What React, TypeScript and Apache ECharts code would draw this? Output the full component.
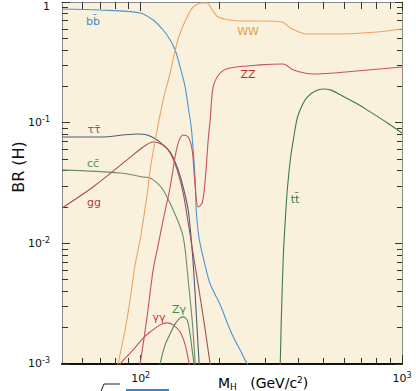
import React, { useEffect, useRef } from "react";
import * as echarts from "echarts";

const FONT = '"DejaVu Sans", "Liberation Sans", sans-serif';

// ---- axes ----
const massMin = 50;
const massMax = 1000;
const massMinorTicks = [60, 70, 80, 90, 200, 300, 400, 500, 600, 700, 800, 900];
const massMajorTicks = [100, 999.99];
const massTickLabels = [100, 999.99];

const brMin = 0.001;
const brMax = 1;
const brMinorTicks = [
  0.002, 0.003, 0.004, 0.005, 0.006, 0.007, 0.008, 0.009,
  0.02, 0.03, 0.04, 0.05, 0.06, 0.07, 0.08, 0.09,
  0.2, 0.3, 0.4, 0.5, 0.6, 0.7, 0.8, 0.9,
];
const brMajorTicks = [0.0010001, 0.01, 0.1, 1];
const brTickLabels = [0.0010001, 0.01, 0.1, 1];

// ---- series (M_H in GeV/c^2, BR) ----
const bbMass = [50, 70, 99.5, 111.6, 121.9, 129.7, 135.5, 141.6, 148, 152, 156.1, 158.8, 161.7, 163.1, 166, 169, 176.6, 184.5, 201.5, 214.4, 226, 240, 256, 274];
const bbBR = [0.875, 0.858, 0.811, 0.709, 0.586, 0.484, 0.4, 0.289, 0.198, 0.135, 0.0921, 0.0594, 0.0335, 0.0189, 0.0124, 0.0098, 0.0065, 0.0046, 0.0031, 0.0022, 0.00168, 0.00131, 0.001, 0.00082];

const tautauMass = [50, 70, 96.9, 105.8, 115.6, 121.9, 129.7, 137.9, 145.4, 152, 157.4, 161.7, 164.5, 167.5, 169];
const tautauBR = [0.0761, 0.0761, 0.0806, 0.0791, 0.0719, 0.0653, 0.0572, 0.043, 0.0293, 0.0189, 0.0088, 0.00374, 0.00192, 0.001, 0.00074];

const ccMass = [50, 83.4, 102.2, 108.7, 115.6, 121.9, 133.2, 144.2, 148, 152, 157.4, 161.7, 163.1];
const ccBR = [0.0406, 0.0383, 0.0355, 0.0348, 0.0317, 0.0277, 0.0189, 0.0122, 0.0088, 0.00497, 0.00232, 0.001, 0.00074];

const ggMass = [50, 65.7, 88.7, 102.2, 111.6, 121.9, 129.7, 137.9, 145.4, 152, 157.4, 166, 176.6, 184.5, 189.5];
const ggBR = [0.0196, 0.0293, 0.0491, 0.0629, 0.0692, 0.0653, 0.0561, 0.0406, 0.0262, 0.0148, 0.0092, 0.00452, 0.00192, 0.001, 0.00074];

const wwMass = [79.8, 81.9, 87.2, 91.1, 95.2, 99.5, 105.8, 108.7, 115.6, 121.9, 129.7, 135.5, 141.6, 150.6, 158.8, 172, 179.7, 187.8, 198, 220, 240, 287, 348, 374, 434, 581, 805, 1000];
const wwBR = [0.00074, 0.001, 0.00192, 0.0034, 0.00662, 0.0107, 0.0252, 0.0406, 0.087, 0.154, 0.258, 0.4, 0.553, 0.751, 0.909, 0.981, 0.981, 0.858, 0.751, 0.709, 0.696, 0.696, 0.683, 0.609, 0.543, 0.543, 0.564, 0.597];

const zzMass = [96.9, 99.5, 105.8, 111.6, 115.6, 121.9, 129.7, 137.9, 145.4, 152, 157.4, 161.7, 166, 172, 176.6, 181.3, 184.5, 189.5, 201.5, 220, 287, 351, 384, 458, 546, 737, 1000];
const zzBR = [0.00074, 0.001, 0.00246, 0.00602, 0.0088, 0.0156, 0.0293, 0.0629, 0.0791, 0.0761, 0.0594, 0.0293, 0.02, 0.0216, 0.0335, 0.0719, 0.1053, 0.198, 0.258, 0.284, 0.301, 0.306, 0.273, 0.253, 0.258, 0.273, 0.289];

const ttMass = [339, 342, 345.2, 351.3, 357.6, 363.9, 373.7, 383.8, 397.5, 415.5, 434, 466, 500, 532, 581, 663, 737, 880, 1000];
const ttBR = [0.00074, 0.001, 0.00232, 0.00772, 0.0156, 0.0277, 0.0491, 0.0719, 0.1094, 0.14, 0.163, 0.183, 0.19, 0.187, 0.17, 0.146, 0.127, 0.0994, 0.082];

const gagaMass = [79.8, 83.4, 93.6, 102.2, 108.7, 118.7, 126.3, 133.2, 141.6, 148, 153.3, 154.7];
const gagaBR = [0.00082, 0.001, 0.00131, 0.00164, 0.00184, 0.00211, 0.00219, 0.00211, 0.00184, 0.00144, 0.001, 0.00082];

const zgaMass = [116.7, 118.7, 124, 129.7, 135.5, 141.6, 145.4, 150.6, 154.7, 157.4, 160.2, 161.7];
const zgaBR = [0.00074, 0.001, 0.00144, 0.00178, 0.00215, 0.00241, 0.00246, 0.00232, 0.00174, 0.00131, 0.00098, 0.00082];

const seriesNames = ["bb", "tautau", "cc", "gg", "WW", "ZZ", "tt", "gammagamma", "Zgamma"];

function tickLabel(v: number): string {
  const e = Math.round(Math.log10(v));
  if (e === 0) return "{t|1}";
  return `{n|10}{s|${e}}`;
}

const labelRich = {
  n: { fontFamily: FONT, fontSize: 11, color: "#111", lineHeight: 14 },
  s: { fontFamily: FONT, fontSize: 8, color: "#111", lineHeight: 8, verticalAlign: "top" as const },
  t: { fontFamily: FONT, fontSize: 11, color: "#111", lineHeight: 14, padding: [9, 0, 0, 0] },
};

function buildOption() {
  const line = (name: string, M: number[], B: number[], color: string, width = 1.1) => ({
    type: "line",
    name,
    data: M.map((m, i) => [m, B[i]]),
    symbol: "none",
    showSymbol: false,
    smooth: 0.3,
    clip: true,
    silent: true,
    xAxisIndex: 0,
    yAxisIndex: 0,
    lineStyle: { color, width },
  });

  const xBase = {
    type: "log",
    logBase: 10,
    min: massMin,
    max: massMax,
    gridIndex: 0,
    splitLine: { show: false },
    minorTick: { show: false },
  };
  const yBase = {
    type: "log",
    logBase: 10,
    min: brMin,
    max: brMax,
    gridIndex: 0,
    splitLine: { show: false },
    minorTick: { show: false },
  };
  const tickStyle = { color: "#333", width: 1 };
  const greyLine = { show: true, onZero: false, lineStyle: { color: "#8c8c8c", width: 1 } };

  const txt = (text: string, x: number, y: number, fill: string, size = 11) => ({
    type: "text",
    x,
    y,
    silent: true,
    style: { text, fill, font: `${size}px ${FONT}`, textAlign: "center", textVerticalAlign: "middle" },
  });

  return {
    animation: false,
    backgroundColor: "#ffffff",
    grid: {
      left: 62,
      top: 2,
      right: 14,
      bottom: 27,
      show: true,
      backgroundColor: "#faf1dd",
      borderWidth: 0,
      containLabel: false,
      outerBoundsMode: "none",
    },
    xAxis: [
      {
        ...xBase,
        position: "bottom",
        axisLine: { show: true, onZero: false, lineStyle: { color: "#111", width: 2 } },
        axisTick: { show: true, inside: true, length: 6, customValues: massMinorTicks, lineStyle: tickStyle },
        axisLabel: { show: true, customValues: massTickLabels, formatter: tickLabel, rich: labelRich, margin: 7 },
      },
      {
        ...xBase,
        position: "bottom",
        axisLine: { show: false },
        axisTick: { show: true, inside: true, length: 9, customValues: massMajorTicks, lineStyle: tickStyle },
        axisLabel: { show: false },
      },
      {
        ...xBase,
        position: "top",
        axisLine: greyLine,
        axisTick: { show: true, inside: true, length: 7, customValues: massMinorTicks, lineStyle: tickStyle },
        axisLabel: { show: false },
      },
      {
        ...xBase,
        position: "top",
        axisLine: { show: false },
        axisTick: { show: true, inside: true, length: 9, customValues: massMajorTicks, lineStyle: tickStyle },
        axisLabel: { show: false },
      },
    ],
    yAxis: [
      {
        ...yBase,
        position: "left",
        axisLine: greyLine,
        axisTick: { show: true, inside: true, length: 6, customValues: brMinorTicks, lineStyle: tickStyle },
        axisLabel: { show: true, customValues: brTickLabels, formatter: tickLabel, rich: labelRich, margin: 12, align: "right" },
      },
      {
        ...yBase,
        position: "left",
        axisLine: { show: false },
        axisTick: { show: true, inside: true, length: 8, customValues: brMajorTicks, lineStyle: tickStyle },
        axisLabel: { show: false },
      },
      {
        ...yBase,
        position: "right",
        axisLine: greyLine,
        axisTick: { show: true, inside: true, length: 5, customValues: brMinorTicks, lineStyle: tickStyle },
        axisLabel: { show: false },
      },
      {
        ...yBase,
        position: "right",
        axisLine: { show: false },
        axisTick: { show: true, inside: true, length: 7, customValues: brMajorTicks, lineStyle: tickStyle },
        axisLabel: { show: false },
      },
    ],
    series: [
      line(seriesNames[0], bbMass, bbBR, "#4a95d2"),
      line(seriesNames[1], tautauMass, tautauBR, "#505b78"),
      line(seriesNames[2], ccMass, ccBR, "#6f8a66"),
      line(seriesNames[3], ggMass, ggBR, "#a05252"),
      line(seriesNames[4], wwMass, wwBR, "#eaa466"),
      line(seriesNames[5], zzMass, zzBR, "#c8505e"),
      line(seriesNames[6], ttMass, ttBR, "#3d7a48"),
      line(seriesNames[7], gagaMass, gagaBR, "#c8505e"),
      line(seriesNames[8], zgaMass, zgaBR, "#4e8a56"),
    ],
    graphic: [
      {
        type: "text",
        x: 18,
        y: 167,
        rotation: Math.PI / 2,
        silent: true,
        style: { text: "BR (H)", fill: "#111", font: `16px ${FONT}`, textAlign: "center", textVerticalAlign: "middle" },
      },
      {
        type: "text",
        x: 218,
        y: 383,
        silent: true,
        style: {
          text: "{m|M}{h|H}{m|   (GeV/c}{p|2}{m|)}",
          textVerticalAlign: "middle",
          rich: {
            m: { fontFamily: FONT, fontSize: 14, color: "#111", lineHeight: 16 },
            h: { fontFamily: FONT, fontSize: 9, color: "#111", lineHeight: 9, verticalAlign: "bottom" },
            p: { fontFamily: FONT, fontSize: 9, color: "#111", lineHeight: 9, verticalAlign: "top" },
          },
        },
      },
      txt("bb\u0304", 93, 21, "#3a8ad0"),
      txt("\u03c4\u03c4\u0304", 94, 129, "#5c6888"),
      txt("cc\u0304", 93, 163, "#4e9a48"),
      txt("gg", 94, 202, "#a84040"),
      txt("WW", 248, 31, "#e0a040"),
      txt("ZZ", 248, 74, "#c8283a"),
      txt("tt\u0304", 295, 199, "#2f7a35"),
      txt("\u03b3\u03b3", 159, 317, "#c83048"),
      txt("Z\u03b3", 179, 309, "#3f8a45"),
      { type: "rect", silent: true, shape: { x: 126, y: 389, width: 43, height: 3 }, style: { fill: "#2f86d2" } },
      { type: "line", silent: true, shape: { x1: 104, y1: 384, x2: 120, y2: 384 }, style: { stroke: "#222", lineWidth: 1 } },
      { type: "line", silent: true, shape: { x1: 101, y1: 391, x2: 104, y2: 384 }, style: { stroke: "#222", lineWidth: 1 } },
    ],
  };
}

export default function App() {
  const ref = useRef<HTMLDivElement>(null);
  useEffect(() => {
    if (!ref.current) return;
    const chart = echarts.init(ref.current, undefined, { renderer: "svg" });
    chart.setOption(buildOption() as any);
    return () => chart.dispose();
  }, []);
  return (
    <div
      ref={ref}
      style={{ position: "fixed", left: 0, top: 0, width: 416, height: 391, background: "#fff" }}
    />
  );
}
